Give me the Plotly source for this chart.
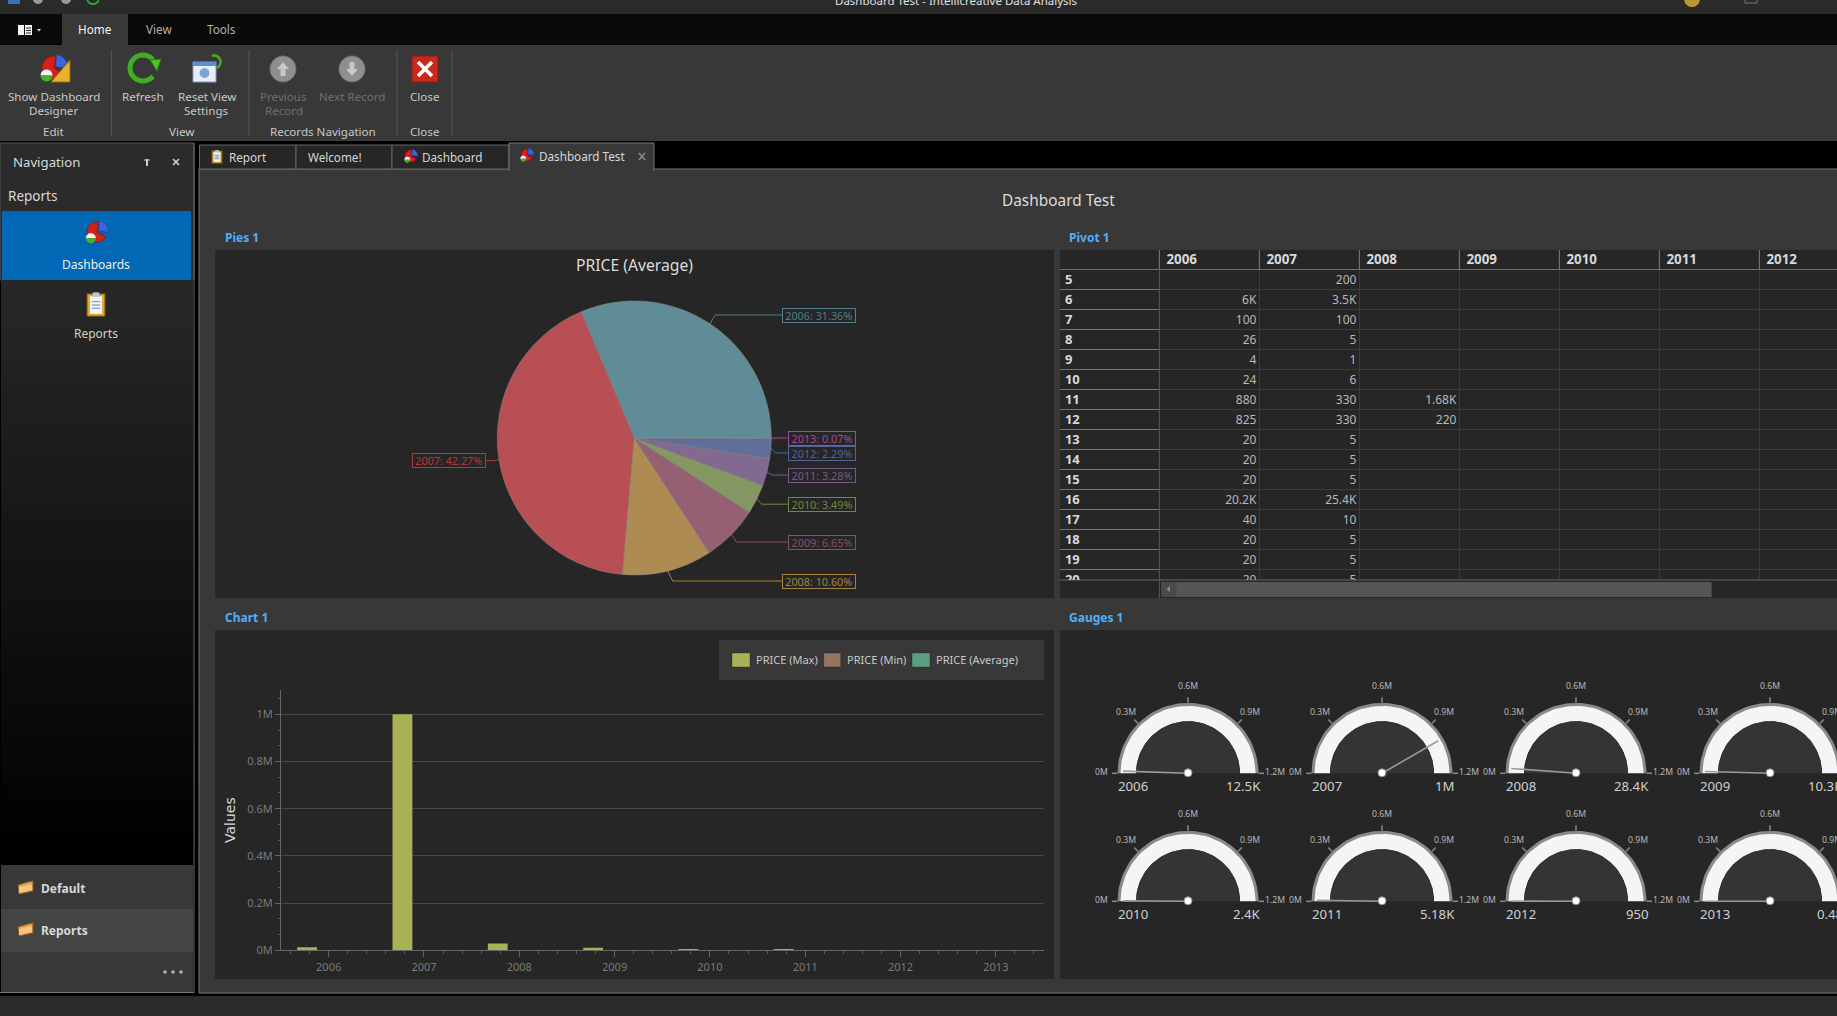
import math
import plotly.graph_objects as go

W, H = 1837, 1016

# ---------- data ----------
years = ["2006", "2007", "2008", "2009", "2010", "2011", "2012", "2013"]
pie_shares = [31.36, 42.27, 10.60, 6.65, 3.49, 3.28, 2.29, 0.07]
chart_max = [12500, 1000000, 28400, 10300, 2400, 5180, 0, 0]
chart_min = [0, 0, 0, 0, 0, 0, 0, 0]
chart_avg = [0, 0, 0, 0, 0, 0, 0, 0]
gauge_values = [12500, 1000000, 28400, 10300, 2400, 5180, 950, 0.48]
gauge_text = ["12.5K", "1M", "28.4K", "10.3K", "2.4K", "5.18K", "950", "0.48"]
gauge_ticks = [0, 300000, 600000, 900000, 1200000]
gauge_tick_text = ["0M", "0.3M", "0.6M", "0.9M", "1.2M"]
y_ticks = [0, 200000, 400000, 600000, 800000, 1000000]
y_tick_text = ["0M", "0.2M", "0.4M", "0.6M", "0.8M", "1M"]
pivot_rows = ["5", "6", "7", "8", "9", "10", "11", "12", "13", "14", "15", "16", "17", "18", "19", "20"]
pivot_2006 = ["", "6K", "100", "26", "4", "24", "880", "825", "20", "20", "20", "20.2K", "40", "20", "20", "20"]
pivot_2007 = ["200", "3.5K", "100", "5", "1", "6", "330", "330", "5", "5", "5", "25.4K", "10", "5", "5", "5"]
pivot_2008 = ["", "", "", "", "", "", "1.68K", "220", "", "", "", "", "", "", "", ""]
series_names = ["PRICE (Max)", "PRICE (Min)", "PRICE (Average)"]
series_colors = ["#a8b155", "#957562", "#5a9e82"]

pie_colors = ["#5f8c97", "#b84f54", "#ae8b52", "#956074", "#859862", "#82698f", "#5e6f99", "#a0609a"]
label_colors = ["#4f7f8a", "#b5383e", "#a5823f", "#8f4d68", "#75883f", "#775a88", "#536498", "#a4489a"]
label_y = [315, 460.7, 581, 542, 504.2, 475, 453, 438]

FONT = "Noto Sans"
px = lambda x: x / W
py = lambda y: 1 - y / H

shapes, ann = [], []


def rect(x0, y0, x1, y1, fill, line=None, lw=1):
    shapes.append(dict(type="rect", xref="paper", yref="paper", x0=px(x0), x1=px(x1), y0=py(y0), y1=py(y1),
                       fillcolor=fill, line=dict(color=line or "rgba(0,0,0,0)", width=lw if line else 0), layer="below"))


def seg(x0, y0, x1, y1, color, lw=1):
    shapes.append(dict(type="line", xref="paper", yref="paper", x0=px(x0), x1=px(x1), y0=py(y0), y1=py(y1),
                       line=dict(color=color, width=lw), layer="below"))


def poly(points, fill=None, line=None, lw=1, close=True):
    d = "M" + "L".join(f"{px(x):.6f},{py(y):.6f}" for x, y in points) + ("Z" if close else "")
    shapes.append(dict(type="path", xref="paper", yref="paper", path=d, fillcolor=fill or "rgba(0,0,0,0)",
                       line=dict(color=line or "rgba(0,0,0,0)", width=lw if line else 0), layer="below"))


def txt(x, y, s, size=12, color="#d8d8d8", anchor="left", family=FONT):
    ann.append(dict(x=px(x), y=py(y), xref="paper", yref="paper", text=s, showarrow=False, xanchor=anchor,
                    yanchor="middle", font=dict(size=size, color=color, family=family), borderpad=0))


def arc(cx, cy, r, a0, a1, n=24):
    return [(cx + r * math.cos(math.radians(a0 + (a1 - a0) * i / n)),
             cy - r * math.sin(math.radians(a0 + (a1 - a0) * i / n))) for i in range(n + 1)]


def pie_icon(cx, cy, s):
    poly([(cx, cy)] + arc(cx, cy, s, 80, 330), "#d6201c", "#8f1512")
    poly([(cx + s * .12, cy - s * .12)] + arc(cx + s * .12, cy - s * .12, s, -10, 85), "#3f62d8", "#2a4296")
    poly(arc(cx - s * .62, cy + s * .62, s * .5, 0, 180), "#f4f4f4")
    poly(arc(cx - s * .62, cy + s * .62, s * .5, 180, 360), "#44b02c")


def clipboard(cx, cy, s):
    rect(cx - s * .8, cy - s, cx + s * .8, cy + s, "#e0ab2c", "#9a7412")
    rect(cx - s * .55, cy - s * .8, cx + s * .55, cy + s * .8, "#f2f4f8")
    rect(cx - s * .3, cy - s * 1.15, cx + s * .3, cy - s * .75, "#b4c6dc")
    for k in (-.3, 0, .3):
        seg(cx - s * .4, cy + s * k, cx + s * .4, cy + s * k, "#6f8fc4", 1)


def folder(x, y):
    poly([(x, y - 3), (x + 10, y - 6), (x + 15, y - 7), (x + 15, y + 3), (x + 1, y + 6)], "#e8a24c", "#8a5a24")
    poly([(x + 1, y - 1), (x + 14, y - 4), (x + 14, y + 2), (x + 1, y + 5)], "#f6c57e")


# ---------- application chrome ----------
rect(0, 0, W, H, "#2a2a2a")
rect(0, 14, W, 44, "#0a0a0a")
rect(0, 44, W, 45, "#000000")
rect(0, 45, W, 141, "#383838")
rect(0, 141, W, 996, "#000000")
rect(62, 14, 128, 45, "#383838")
rect(0, 996, W, H, "#2a2a2a")
for x in (111.6, 249, 397, 452):
    seg(x, 50, x, 136, "#555555")
# title bar, clipped by the top edge
txt(956, 0, "Dashboard Test - Intellicreative Data Analysis", 11.5, "#e0e0e0", "center")
rect(1745, -4, 1757, 3, "#2a2a2a", "#777777")
poly(arc(1692, -1, 8, 180, 360), "#b8982e")
rect(8, -2, 20, 4, "#3a6fc0")
for x in (38, 66):
    poly(arc(x, -1, 5, 0, 360), "#9a9a9a")
poly(arc(93, -2, 6, 180, 340), None, "#2ea82a", 2, close=False)

# menu
rect(18, 25, 24, 35, "#f4f4f4")
rect(25, 25, 32, 35, "#f4f4f4")
for y in (28, 30.5, 33):
    seg(26, y, 31, y, "#222222")
poly([(37, 29), (41, 29), (39, 31.5)], "#e0e0e0")
txt(94.6, 28.7, "Home", 11.7, "#f4f4f4", "center")
txt(158.5, 28.7, "View", 11.7, "#b0b0b0", "center")
txt(221, 28.7, "Tools", 11.7, "#b0b0b0", "center")

# ribbon
pie_icon(54, 68, 12)
poly([(70, 60), (70, 82), (51, 82)], "#e8b32e", "#8a6a14")
poly(arc(143, 68, 13, 40, 320), None, "#3fae22", 5, close=False)
poly([(150, 60), (161, 59), (157, 71)], "#4cc428", "#2a7a16")
rect(193, 62, 216, 82, "#e8eef8", "#7f9ccc")
rect(193, 62, 216, 66, "#5b8fd6")
poly(arc(204.5, 73, 5, 0, 360, 12), "#7da3d8")
poly(arc(214, 62, 6.5, 290, 470), None, "#3fae22", 2.5, close=False)
for cx in (283, 352):
    poly(arc(cx, 69, 13, 0, 360, 36), "#8f8f8f", "#6e6e6e")
poly([(283, 62), (289, 69), (285.5, 69), (285.5, 76), (280.5, 76), (280.5, 69), (277, 69)], "#c8c8c8")
poly([(352, 76), (358, 69), (354.5, 69), (354.5, 62), (349.5, 62), (349.5, 69), (346, 69)], "#c8c8c8")
rect(412, 56, 438, 82, "#c9281c", "#8e1a12")
seg(418, 62, 432, 76, "#ffffff", 3.5)
seg(432, 62, 418, 76, "#ffffff", 3.5)

RB = 11.6
txt(53.6, 96.2, "Show Dashboard", RB, "#c8c8c8", "center")
txt(53.6, 110.2, "Designer", RB, "#c8c8c8", "center")
txt(53.6, 131.2, "Edit", RB, "#c8c8c8", "center")
txt(143, 96.2, "Refresh", RB, "#c8c8c8", "center")
txt(206.7, 96.2, "Reset View", RB, "#c8c8c8", "center")
txt(206.7, 110.2, "Settings", RB, "#c8c8c8", "center")
txt(181, 131.2, "View", RB, "#c8c8c8", "center")
txt(283.5, 96.2, "Previous", RB, "#6f6f6f", "center")
txt(283.5, 110.2, "Record", RB, "#6f6f6f", "center")
txt(351.8, 96.2, "Next Record", RB, "#6f6f6f", "center")
txt(323, 131.2, "Records Navigation", RB, "#c8c8c8", "center")
txt(424.6, 96.2, "Close", RB, "#c8c8c8", "center")
txt(424.6, 131.2, "Close", RB, "#c8c8c8", "center")

# navigation panel
rect(0, 143, 194, 280, "#2b2b2b", "#555555")
n = 36
for i in range(n):
    v = int(round(0x27 * (1 - i / (n - 1))))
    rect(1, 280 + (865 - 280) * i / n, 193, 280 + (865 - 280) * (i + 1) / n + 1, f"rgb({v},{v},{v})")
rect(2, 211, 191, 280, "#0068b4")
rect(1, 865, 193, 909, "#383838")
rect(1, 909, 193, 952, "#444444")
rect(1, 952, 193, 992, "#383838")
seg(0, 992.5, 194, 992.5, "#777777")
seg(194, 143, 194, 993, "#6a6a6a")
txt(12, 161.5, "Navigation", 13.2, "#d8d8d8")
seg(147, 159, 147, 166, "#d0d0d0", 2)
seg(144, 160, 150, 160, "#d0d0d0", 1)
seg(173, 159, 179, 165, "#d8d8d8", 1.5)
seg(179, 159, 173, 165, "#d8d8d8", 1.5)
txt(7, 196, "Reports", 13.5, "#d8d8d8")
pie_icon(97, 232, 10)
txt(96, 264, "Dashboards", 12, "#f0f0f0", "center")
clipboard(96, 305, 11)
txt(96, 333, "Reports", 12, "#d0d0d0", "center")
folder(18, 888)
txt(40, 888, "<b>Default</b>", 12, "#d8d8d8")
folder(18, 930)
txt(40, 930, "<b>Reports</b>", 12, "#d8d8d8")
for x in (165, 173, 181):
    poly(arc(x, 972, 1.8, 0, 360, 10), "#b0b0b0")

# content panel and tabs
rect(199, 169, W + 3, 993, "#383838", "#777777")
rect(199.5, 145, 296, 169, "#262626", "#666666")
rect(296, 145, 392, 169, "#262626", "#666666")
rect(392, 145, 509, 169, "#262626", "#666666")
rect(509, 143, 654, 170, "#383838", "#777777")
rect(510, 168, 653, 171, "#383838")
clipboard(217, 157, 6)
txt(228, 156.5, "Report", 11.7, "#d8d8d8")
txt(306.5, 156.5, "Welcome!", 11.7, "#d8d8d8")
pie_icon(411, 156, 6)
txt(421, 156.5, "Dashboard", 11.7, "#d8d8d8")
pie_icon(527, 155, 6)
txt(538, 155.9, "Dashboard Test", 11.7, "#d8d8d8")
seg(639, 153, 645, 160, "#8a8a8a", 1.5)
seg(645, 153, 639, 160, "#8a8a8a", 1.5)
txt(1058, 200.5, "Dashboard Test", 15.4, "#dcdcdc", "center")

# dashboard cards
BLUE = "#4db0ff"
for (x0, y0, x1, y1) in [(215, 250, 1054, 598), (1060, 250, W + 3, 598), (215, 630, 1054, 979), (1060, 630, W + 3, 979)]:
    rect(x0, y0, x1, y1, "#262626")
txt(224, 237, "<b>Pies 1</b>", 12, BLUE)
txt(1068, 237, "<b>Pivot 1</b>", 12, BLUE)
txt(224, 617, "<b>Chart 1</b>", 12, BLUE)
txt(1068, 617, "<b>Gauges 1</b>", 12, BLUE)

# ---------- pie ----------
CX, CY, R = 634.3, 438, 137
txt(CX, 265, "PRICE (Average)", 15.7, "#dcdcdc", "center")
total = sum(pie_shares)
traces = [go.Pie(labels=years, values=pie_shares, sort=False, direction="counterclockwise",
                 rotation=90 - 360 * pie_shares[0] / total,
                 marker=dict(colors=pie_colors, line=dict(color="#8a8a8a", width=0.5)), textinfo="none",
                 hoverinfo="label+percent", showlegend=False,
                 domain=dict(x=[px(CX - R), px(CX + R)], y=[py(CY + R), py(CY - R)]))]
cum = 0
for yr, share, col, ly in zip(years, pie_shares, label_colors, label_y):
    mid = (cum + share / 2) / total * 360
    cum += share
    ex, ey = CX + R * math.cos(math.radians(mid)), CY - R * math.sin(math.radians(mid))
    left = yr == "2007"
    knee = ex + (-5 if left else 5)
    wide = share >= 10
    right_edge = 486.3 if left else 855.5
    box_w = 73.5 if wide else 68
    end = right_edge if left else right_edge - box_w
    poly([(ex, ey), (knee, ly), (end, ly)], None, col, 1, close=False)
    ann.append(dict(x=px(right_edge), y=py(ly), xref="paper", yref="paper", text=f"{yr}: {share:.2f}%", showarrow=False,
                    xanchor="right", yanchor="middle", width=box_w - 2, height=13, align="center",
                    bordercolor=col, borderwidth=1, borderpad=0,
                    font=dict(size=10.8, color=col, family=FONT)))

# ---------- pivot (text drawn through its own row/column axes) ----------
tp = dict(xaxis="x3", yaxis="y3", hoverinfo="skip", showlegend=False)
n_rows = len(pivot_rows)
row_idx = [i + 0.55 for i in range(n_rows)]
rule_x, rule_y = [], []
for i in range(n_rows):
    rule_x += [-0.994, 0, None]
    rule_y += [i, i, None]
traces.append(go.Scatter(x=rule_x, y=rule_y, mode="lines", line=dict(color="#777777", width=1.2), **tp))
hx, hy = [-0.994, 6.776, None], [0, 0, None]
for c in range(0, 7):
    hx += [c, c, None]
    hy += [-0.975, 0, None]
traces.append(go.Scatter(x=hx, y=hy, mode="lines", line=dict(color="#6f6f6f", width=1.2), **tp))
traces.append(go.Scatter(x=[0, 0], y=[0, 15.525], mode="lines", line=dict(color="#555555", width=1), **tp))
traces.append(go.Scatter(x=[-0.945] * n_rows, y=row_idx, mode="text", text=["<b>%s</b>" % r for r in pivot_rows],
                         textposition="middle right", textfont=dict(size=13, color="#d8d8d8", family=FONT), **tp))
traces.append(go.Scatter(x=[c + 0.07 for c in range(7)], y=[-0.42] * 7, mode="text", text=["<b>%s</b>" % y for y in years[:7]],
                         textposition="middle right", textfont=dict(size=13.4, color="#d8d8d8", family=FONT), **tp))
for c, col_vals in enumerate([pivot_2006, pivot_2007, pivot_2008]):
    traces.append(go.Scatter(x=[c + 0.97] * n_rows, y=row_idx, mode="text", text=col_vals, textposition="middle left",
                             textfont=dict(size=12, color="#b8b8b8", family=FONT), **tp))
# scrollbar of the pivot grid
rect(1161.4, 582, 1711.6, 597, "#555555")
rect(1161.4, 582, 1176.5, 597, "#4a4a4a")
poly([(1170, 586), (1170, 592), (1166.5, 589)], "#8a8a8a")
seg(1159.4, 580, 1159.4, 598, "#555555")
seg(1060, 580, W, 580, "#777777", 0.8)

# ---------- bars ----------
xpos = list(range(len(years)))
for name, vals, col, off in zip(series_names, [chart_max, chart_min, chart_avg], series_colors, [-0.33, -0.122, 0.086]):
    traces.append(go.Bar(x=xpos, y=vals, name=name, width=0.208, offset=off, marker=dict(color=col, line=dict(width=0)),
                         xaxis="x", yaxis="y", showlegend=False))
# legend
rect(719, 640, 1044, 680, "#383838")
for name, col, sx, tx, sw in zip(series_names, series_colors, [732, 823.7, 912], [755, 846, 935], [18, 17, 18]):
    rect(sx, 653, sx + sw, 667, col, "rgba(0,0,0,0.25)", 1)
    txt(tx, 659.5, name, 11, "#c8c8c8")

# ---------- gauges ----------
G_CX = [1188, 1382, 1576, 1770]
G_CY = [773.3, 901.3]
G_MAX = gauge_ticks[-1]


def theta(v):
    return 180 * (1 - v / G_MAX)


def ring(cx, cy, r0, r1):
    o = arc(cx, cy, r1, 180, 0, 60)
    i = arc(cx, cy, r0, 0, 180, 60) if r0 else []
    return o + i + [o[0]]


def add_path(store, pts):
    store[0].extend([p[0] for p in pts] + [None])
    store[1].extend([p[1] for p in pts] + [None])


rim, white, inner, tick, needle = ([], []), ([], []), ([], []), ([], []), ([], [])
hubx, huby = [], []
for k, yr in enumerate(years):
    cx, cy = G_CX[k % 4], G_CY[k // 4]
    add_path(rim, ring(cx, cy, 67, 70.5))
    add_path(white, ring(cx, cy, 52, 67.5))
    add_path(inner, ring(cx, cy, 0, 52))
    for v, lab in zip(gauge_ticks, gauge_tick_text):
        a = math.radians(theta(v))
        add_path(tick, [(cx + 70.5 * math.cos(a), cy - 70.5 * math.sin(a)), (cx + 76 * math.cos(a), cy - 76 * math.sin(a))])
        lx = cx + 87 * math.cos(a)
        ly = cy - 87 * math.sin(a) - (1.5 if v in (0, G_MAX) else 0)
        txt(lx, ly, lab, 8.6, "#b8b8b8", "center")
    a = math.radians(theta(gauge_values[k]))
    add_path(needle, [(cx, cy), (cx + 65 * math.cos(a), cy - 65 * math.sin(a))])
    hubx.append(cx)
    huby.append(cy - 0.5)
    txt(cx - 71.5, cy + 12.5, yr, 13.2, "#d0d0d0")
    txt(cx + 73.5, cy + 12.5, gauge_text[k], 13.2, "#d0d0d0", "right")

ga = dict(xaxis="x2", yaxis="y2", hoverinfo="skip", showlegend=False)
traces += [
    go.Scatter(x=rim[0], y=rim[1], mode="lines", fill="toself", fillcolor="#8a8a8a", line=dict(width=0), **ga),
    go.Scatter(x=white[0], y=white[1], mode="lines", fill="toself", fillcolor="#f5f5f5", line=dict(width=0), **ga),
    go.Scatter(x=inner[0], y=inner[1], mode="lines", fill="toself", fillcolor="#343434", line=dict(width=0), **ga),
    go.Scatter(x=tick[0], y=tick[1], mode="lines", line=dict(color="#8a8a8a", width=1.5), **ga),
    go.Scatter(x=needle[0], y=needle[1], mode="lines", line=dict(color="#9a9a9a", width=1.6), **ga),
    go.Scatter(x=hubx, y=huby, mode="markers", marker=dict(size=8, color="#ffffff", line=dict(color="#8a8a8a", width=1)), **ga),
]

fig = go.Figure(traces)
fig.update_layout(
    width=W, height=H, margin=dict(l=0, r=0, t=0, b=0, pad=0, autoexpand=False), autosize=False,
    paper_bgcolor="#000000", plot_bgcolor="rgba(0,0,0,0)", barmode="overlay", showlegend=False,
    font=dict(family=FONT, color="#c8c8c8"), shapes=shapes, annotations=ann,
    xaxis=dict(domain=[px(281), px(1043.5)], range=[-0.5, 7.5], tickvals=xpos, ticktext=years, showgrid=False, zeroline=False,
               showline=True, linecolor="#666666", ticks="outside", ticklen=6, tickcolor="#666666",
               tickfont=dict(size=11, color="#7a7a7a", family=FONT),
               minor=dict(dtick=0.2, tick0=-0.4, ticks="outside", ticklen=3, tickcolor="#5a5a5a", showgrid=False), anchor="y"),
    yaxis=dict(domain=[py(950.3), py(690)], range=[0, 1103000], tickvals=y_ticks, ticktext=y_tick_text, showgrid=True,
               gridcolor="#484848", zeroline=False, showline=True, linecolor="#666666", ticks="outside", ticklen=5,
               tickcolor="#666666", tickfont=dict(size=11, color="#7a7a7a", family=FONT),
               minor=dict(dtick=200000 / 3, tick0=0, ticks="outside", ticklen=2, tickcolor="#5a5a5a", showgrid=False),
               title=dict(text="Values", standoff=8, font=dict(size=14, color="#d8d8d8", family="DejaVu Sans")), anchor="x"),
    xaxis2=dict(domain=[0, 1], range=[0, W], visible=False, anchor="y2", fixedrange=True),
    yaxis2=dict(domain=[0, 1], range=[H, 0], visible=False, anchor="x2", fixedrange=True),
    xaxis3=dict(domain=[px(1060), 1], range=[-0.994, 6.776], anchor="y3", tick0=0, dtick=1, showgrid=True, gridcolor="#3c3c3c",
                zeroline=False, showline=False, showticklabels=False, ticks="", fixedrange=True),
    yaxis3=dict(domain=[py(580), py(250)], range=[15.525, -0.975], anchor="x3", tick0=0, dtick=1, showgrid=True, gridcolor="#3c3c3c",
                zeroline=False, showline=False, showticklabels=False, ticks="", fixedrange=True),
)
fig.write_html("out.html", config=dict(displayModeBar=False),
               post_script="document.body.style.margin='0';document.body.style.overflow='hidden';")
